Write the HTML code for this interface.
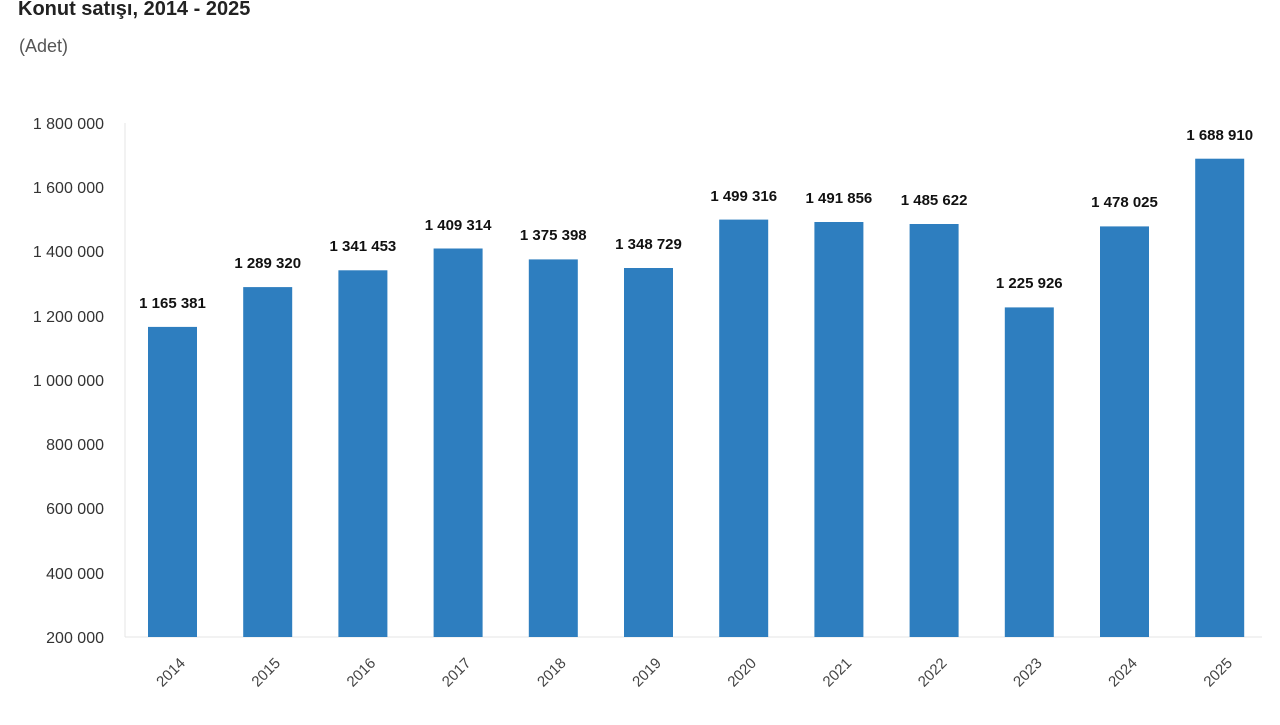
<!DOCTYPE html>
<html><head><meta charset="utf-8"><style>
body{margin:0;background:#fff;width:1280px;height:720px;overflow:hidden}
text{font-family:"Liberation Sans",sans-serif}
</style></head><body>
<svg width="1280" height="720" xmlns="http://www.w3.org/2000/svg">
<text x="18" y="15" font-size="20" font-weight="bold" fill="#222">Konut satışı, 2014 - 2025</text>
<text x="19" y="52" font-size="18" fill="#555">(Adet)</text>
<line x1="125" y1="123" x2="125" y2="637" stroke="#e4e4e4"/>
<line x1="125" y1="637" x2="1262" y2="637" stroke="#e4e4e4"/>
<g font-size="16" fill="#333" text-anchor="end">
<text x="104" y="129">1 800 000</text>
<text x="104" y="193">1 600 000</text>
<text x="104" y="257">1 400 000</text>
<text x="104" y="322">1 200 000</text>
<text x="104" y="386">1 000 000</text>
<text x="104" y="450">800 000</text>
<text x="104" y="514">600 000</text>
<text x="104" y="579">400 000</text>
<text x="104" y="643">200 000</text>
</g>
<g fill="#2E7EBF">
<rect x="148" y="326.9" width="49" height="310.1"/>
<rect x="243.2" y="287.1" width="49" height="349.9"/>
<rect x="338.4" y="270.3" width="49" height="366.7"/>
<rect x="433.6" y="248.5" width="49" height="388.5"/>
<rect x="528.8" y="259.4" width="49" height="377.6"/>
<rect x="624" y="268" width="49" height="369"/>
<rect x="719.2" y="219.6" width="49" height="417.4"/>
<rect x="814.4" y="222" width="49" height="415"/>
<rect x="909.6" y="224" width="49" height="413"/>
<rect x="1004.8" y="307.4" width="49" height="329.6"/>
<rect x="1100" y="226.4" width="49" height="410.6"/>
<rect x="1195.2" y="158.7" width="49" height="478.3"/>
</g>
<g font-size="15" font-weight="bold" fill="#111" text-anchor="middle">
<text x="172.5" y="308">1 165 381</text>
<text x="267.7" y="268">1 289 320</text>
<text x="362.9" y="251">1 341 453</text>
<text x="458.1" y="230">1 409 314</text>
<text x="553.3" y="240">1 375 398</text>
<text x="648.5" y="249">1 348 729</text>
<text x="743.7" y="201">1 499 316</text>
<text x="838.9" y="203">1 491 856</text>
<text x="934.1" y="205">1 485 622</text>
<text x="1029.3" y="288">1 225 926</text>
<text x="1124.5" y="207">1 478 025</text>
<text x="1219.7" y="140">1 688 910</text>
</g>
<g font-size="15" fill="#444" text-anchor="end">
<text transform="translate(186,664) rotate(-45)">2014</text>
<text transform="translate(281.2,664) rotate(-45)">2015</text>
<text transform="translate(376.4,664) rotate(-45)">2016</text>
<text transform="translate(471.6,664) rotate(-45)">2017</text>
<text transform="translate(566.8,664) rotate(-45)">2018</text>
<text transform="translate(662,664) rotate(-45)">2019</text>
<text transform="translate(757.2,664) rotate(-45)">2020</text>
<text transform="translate(852.4,664) rotate(-45)">2021</text>
<text transform="translate(947.6,664) rotate(-45)">2022</text>
<text transform="translate(1042.8,664) rotate(-45)">2023</text>
<text transform="translate(1138,664) rotate(-45)">2024</text>
<text transform="translate(1233.2,664) rotate(-45)">2025</text>
</g>
</svg>
</body></html>
